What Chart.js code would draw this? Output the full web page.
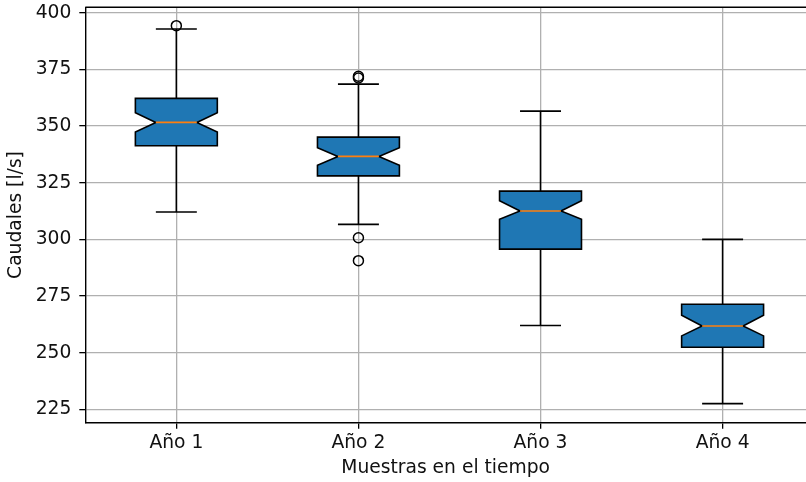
<!DOCTYPE html>
<html>
<head>
<meta charset="utf-8">
<script src="https://cdn.jsdelivr.net/npm/chart.js@4.4.1/dist/chart.umd.min.js"></script>
<style>
  html, body { margin: 0; padding: 0; background: #fff; }
</style>
</head>
<body>
<canvas id="boxChart" width="806" height="482"></canvas>
<script>
// values
const categories = ['Año 1', 'Año 2', 'Año 3', 'Año 4'];
const whiskerLow  = [312.1, 306.6, 262.0, 227.5];
const q1          = [341.3, 328.0, 295.7, 252.4];
const notchLow    = [347.4, 332.7, 308.9, 257.4];
const medians     = [351.6, 336.6, 312.5, 261.8];
const notchHigh   = [355.9, 340.4, 317.0, 266.5];
const q3          = [362.2, 345.1, 321.3, 271.4];
const whiskerHigh = [392.8, 368.5, 356.6, 300.0];
const outliers    = [[394.3], [372.0, 371.2, 300.7, 290.6], [], []];
const yTicks = [225, 250, 275, 300, 325, 350, 375, 400];

const BOX_WIDTH = 0.45;
const FONT = 'DejaVu Sans';
const FONT_SIZE = 18.7;

// flatten outliers into scatter points
const flierPoints = [];
outliers.forEach((vals, i) => {
    vals.forEach(v => flierPoints.push({ x: i + 1, y: v }));
});

// draws the notched boxes, whiskers and caps from the scales
const boxplotPlugin = {
    id: 'notchedBoxes',
    beforeDatasetsDraw(chart) {
        const ctx = chart.ctx;
        const xs = chart.scales.x;
        const ys = chart.scales.y;
        ctx.save();
        ctx.lineWidth = 1.6;
        ctx.strokeStyle = '#000';
        ctx.lineJoin = 'miter';
        categories.forEach((cat, i) => {
            const cx = xs.getPixelForValue(i + 1);
            const half = Math.abs(xs.getPixelForValue(i + 1 + BOX_WIDTH / 2) - cx);
            const capHalf = half / 2;
            const py = v => ys.getPixelForValue(v);

            // whiskers
            ctx.beginPath();
            ctx.moveTo(cx, py(q1[i]));
            ctx.lineTo(cx, py(whiskerLow[i]));
            ctx.moveTo(cx, py(q3[i]));
            ctx.lineTo(cx, py(whiskerHigh[i]));
            // caps
            ctx.moveTo(cx - capHalf, py(whiskerLow[i]));
            ctx.lineTo(cx + capHalf, py(whiskerLow[i]));
            ctx.moveTo(cx - capHalf, py(whiskerHigh[i]));
            ctx.lineTo(cx + capHalf, py(whiskerHigh[i]));
            ctx.stroke();

            // notched box
            ctx.beginPath();
            ctx.moveTo(cx - half, py(q1[i]));
            ctx.lineTo(cx + half, py(q1[i]));
            ctx.lineTo(cx + half, py(notchLow[i]));
            ctx.lineTo(cx + capHalf, py(medians[i]));
            ctx.lineTo(cx + half, py(notchHigh[i]));
            ctx.lineTo(cx + half, py(q3[i]));
            ctx.lineTo(cx - half, py(q3[i]));
            ctx.lineTo(cx - half, py(notchHigh[i]));
            ctx.lineTo(cx - capHalf, py(medians[i]));
            ctx.lineTo(cx - half, py(notchLow[i]));
            ctx.closePath();
            ctx.fillStyle = '#1f77b4';
            ctx.fill();
            ctx.stroke();

            // median
            ctx.beginPath();
            ctx.strokeStyle = '#ff7f0e';
            ctx.moveTo(cx - capHalf, py(medians[i]));
            ctx.lineTo(cx + capHalf, py(medians[i]));
            ctx.stroke();
            ctx.strokeStyle = '#000';
        });
        ctx.restore();
    },
    afterDraw(chart) {
        // top spine like matplotlib
        const { ctx, chartArea } = chart;
        ctx.save();
        ctx.strokeStyle = '#000';
        ctx.lineWidth = 1.4;
        ctx.beginPath();
        ctx.moveTo(chartArea.left, chartArea.top);
        ctx.lineTo(chartArea.right, chartArea.top);
        ctx.stroke();
        ctx.restore();
    }
};

new Chart(document.getElementById('boxChart'), {
    type: 'scatter',
    data: {
        datasets: [{
            label: 'Atípicos',
            data: flierPoints,
            pointStyle: 'circle',
            pointRadius: 5,
            pointHoverRadius: 5,
            borderColor: '#000',
            borderWidth: 1.5,
            backgroundColor: 'rgba(0,0,0,0)'
        }]
    },
    options: {
        responsive: false,
        devicePixelRatio: 1,
        animation: false,
        layout: { autoPadding: false, padding: { top: 7.3, right: 0, bottom: 0, left: 0 } },
        plugins: {
            legend: { display: false },
            tooltip: { enabled: false }
        },
        scales: {
            x: {
                type: 'linear',
                min: 0.5,
                max: 4.458,
                afterBuildTicks: s => { s.ticks = categories.map((c, i) => ({ value: i + 1 })); },
                afterFit: s => {
                    s.height = 59.3;
                    s.paddingLeft = 0;
                    s.paddingRight = 0;
                },
                ticks: {
                    callback: v => categories[v - 1],
                    color: '#111',
                    padding: 3,
                    maxRotation: 0,
                    font: { family: FONT, size: FONT_SIZE }
                },
                grid: { color: '#b0b0b0', lineWidth: 1.3, tickColor: '#000', tickLength: 6 },
                border: { display: true, color: '#000', width: 1.4 },
                title: {
                    display: true,
                    text: 'Muestras en el tiempo',
                    color: '#111',
                    padding: { top: 0, bottom: 3 },
                    font: { family: FONT, size: FONT_SIZE }
                }
            },
            y: {
                min: 219.1,
                max: 402.4,
                afterBuildTicks: s => { s.ticks = yTicks.map(v => ({ value: v })); },
                afterFit: s => {
                    s.width = 85.3;
                    s.paddingTop = 0;
                    s.paddingBottom = 0;
                },
                ticks: {
                    color: '#111',
                    padding: 8,
                    font: { family: FONT, size: FONT_SIZE }
                },
                grid: { color: '#b0b0b0', lineWidth: 1.3, tickColor: '#000', tickLength: 6 },
                border: { display: true, color: '#000', width: 1.4 },
                title: {
                    display: true,
                    text: 'Caudales [l/s]',
                    color: '#111',
                    padding: { top: 5, bottom: 0 },
                    font: { family: FONT, size: FONT_SIZE }
                }
            }
        }
    },
    plugins: [boxplotPlugin]
});
</script>
</body>
</html>
